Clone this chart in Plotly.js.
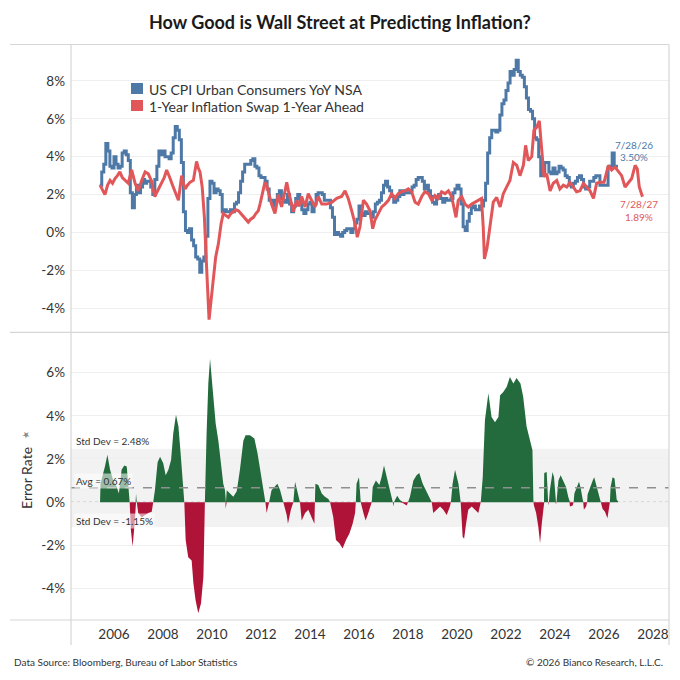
<!DOCTYPE html>
<html>
<head>
<meta charset="utf-8">
<script src="https://cdn.plot.ly/plotly-3.0.1.min.js"></script>
<style>
  html, body { margin: 0; padding: 0; background: #ffffff; }
  #chart { width: 680px; height: 680px; }
</style>
</head>
<body>
<div id="chart"></div>
<script>
// ---------- DATA ----------
// US CPI Urban Consumers YoY NSA, monthly, starting June 2005
const cpiStartYear = 2005;
const cpiStartMonth = 6;
const cpiValues = [
  2.5, 3.2, 3.6, 4.7, 4.3, 3.5, 3.4,
  4.0, 3.6, 3.4, 3.5, 4.2, 4.3, 4.1, 3.8, 2.1, 1.3, 2.0, 2.5,
  2.1, 2.4, 2.8, 2.6, 2.7, 2.7, 2.4, 2.0, 2.8, 3.5, 4.3, 4.1,
  4.3, 4.0, 4.0, 3.9, 4.2, 5.0, 5.6, 5.4, 4.9, 3.7, 1.1, 0.1,
  0.0, 0.2, -0.4, -0.7, -1.3, -1.4, -2.1, -1.5, -1.3, -0.2, 1.8, 2.7,
  2.6, 2.1, 2.3, 2.2, 2.0, 1.1, 1.2, 1.1, 1.1, 1.2, 1.1, 1.5,
  1.6, 2.1, 2.7, 3.2, 3.6, 3.6, 3.6, 3.8, 3.9, 3.5, 3.4, 3.0,
  2.9, 2.9, 2.7, 2.3, 1.7, 1.7, 1.4, 1.7, 2.0, 2.2, 1.8, 1.7,
  1.6, 2.0, 1.5, 1.1, 1.4, 1.8, 2.0, 1.5, 1.2, 1.0, 1.2, 1.5,
  1.6, 1.1, 1.5, 2.0, 2.1, 2.1, 2.0, 1.7, 1.7, 1.7, 1.3, 0.8,
  -0.1, 0.0, -0.1, -0.2, 0.0, 0.1, 0.2, 0.2, 0.0, 0.2, 0.5, 0.7,
  1.4, 1.0, 0.9, 1.1, 1.0, 1.0, 0.8, 1.1, 1.5, 1.6, 1.7, 2.1,
  2.5, 2.7, 2.4, 2.2, 1.9, 1.6, 1.7, 1.9, 2.2, 2.0, 2.2, 2.1,
  2.1, 2.2, 2.4, 2.5, 2.8, 2.9, 2.9, 2.7, 2.3, 2.5, 2.2, 1.9,
  1.6, 1.5, 1.9, 2.0, 1.8, 1.6, 1.8, 1.7, 1.7, 1.8, 2.1, 2.3,
  2.5, 2.3, 1.5, 0.3, 0.1, 0.6, 1.0, 1.3, 1.4, 1.2, 1.2, 1.4,
  1.4, 1.7, 2.6, 4.2, 5.0, 5.4, 5.4, 5.3, 5.4, 6.2, 6.8, 7.0,
  7.5, 7.9, 8.5, 8.3, 8.6, 9.1, 8.5, 8.3, 8.2, 7.7, 7.1, 6.5,
  6.4, 6.0, 5.0, 4.9, 4.0, 3.0, 3.2, 3.7, 3.7, 3.2, 3.1, 3.4,
  3.1, 3.2, 3.5, 3.4, 3.3, 3.0, 2.9, 2.5, 2.4, 2.6, 2.7, 2.9,
  3.0, 2.8, 2.4, 2.3, 2.4, 2.7, 2.7, 2.9, 3.0, 3.0, 2.5, 2.5,
  2.5, 2.5, 3.4, 3.5, 4.2, 3.5, 3.5
];
const cpiLastDate = 2026.57;   // 7/28/26

// 1-Year Inflation Swap, shifted 1 year ahead (decimal year, %)
const swapYear = [
  2005.43, 2005.52, 2005.63, 2005.74, 2005.84, 2005.94, 2006.04, 2006.14, 2006.24, 2006.34,
  2006.45, 2006.58, 2006.72, 2006.79, 2006.86, 2006.99, 2007.06, 2007.13, 2007.27, 2007.40,
  2007.47, 2007.54, 2007.61, 2007.67, 2007.74, 2007.81, 2007.95, 2008.05, 2008.15, 2008.22,
  2008.29, 2008.39, 2008.49, 2008.56, 2008.63, 2008.70, 2008.76, 2008.83, 2008.90, 2009.00,
  2009.10, 2009.24, 2009.31, 2009.37, 2009.44, 2009.51, 2009.60, 2009.65, 2009.69, 2009.75,
  2009.82, 2009.86, 2009.88, 2009.92, 2009.96, 2010.05, 2010.15, 2010.26, 2010.32, 2010.37,
  2010.46, 2010.56, 2010.67, 2010.77, 2010.87, 2010.97, 2011.08, 2011.18, 2011.28, 2011.38,
  2011.48, 2011.58, 2011.69, 2011.79, 2011.89, 2011.96, 2012.03, 2012.10, 2012.16, 2012.23,
  2012.30, 2012.37, 2012.43, 2012.50, 2012.57, 2012.64, 2012.71, 2012.78, 2012.84, 2012.95,
  2013.05, 2013.12, 2013.18, 2013.25, 2013.32, 2013.39, 2013.46, 2013.53, 2013.60, 2013.66,
  2013.73, 2013.80, 2013.93, 2014.06, 2014.20, 2014.34, 2014.48, 2014.68, 2014.90, 2015.09,
  2015.29, 2015.43, 2015.56, 2015.70, 2015.84, 2015.93, 2016.04, 2016.18, 2016.31, 2016.45,
  2016.56, 2016.65, 2016.79, 2016.93, 2017.06, 2017.20, 2017.33, 2017.47, 2017.60, 2017.74,
  2017.88, 2018.01, 2018.15, 2018.29, 2018.42, 2018.56, 2018.69, 2018.83, 2018.97, 2019.10,
  2019.23, 2019.37, 2019.51, 2019.65, 2019.78, 2019.88, 2019.96, 2020.05, 2020.19, 2020.33,
  2020.46, 2020.60, 2020.73, 2020.87, 2021.00, 2021.07, 2021.12, 2021.17, 2021.22, 2021.28,
  2021.35, 2021.48, 2021.62, 2021.76, 2021.89, 2022.03, 2022.16, 2022.30, 2022.44, 2022.57,
  2022.71, 2022.80, 2022.91, 2023.05, 2023.14, 2023.25, 2023.36, 2023.46, 2023.55, 2023.66,
  2023.80, 2023.93, 2024.07, 2024.20, 2024.34, 2024.48, 2024.61, 2024.75, 2024.88, 2025.02,
  2025.16, 2025.29, 2025.43, 2025.57, 2025.70, 2025.84, 2026.00, 2026.18, 2026.31, 2026.45,
  2026.59, 2026.72, 2026.86, 2027.00, 2027.13, 2027.27, 2027.36, 2027.44, 2027.57
];
const swapValue = [
  2.5, 2.3, 2.0, 2.5, 2.75, 2.6, 2.85, 3.0, 3.2, 2.9,
  2.75, 2.6, 3.3, 3.0, 2.6, 2.2, 2.5, 2.75, 3.2, 3.1,
  2.9, 2.7, 2.2, 1.9, 2.1, 2.3, 2.65, 2.9, 3.3, 3.1,
  2.85, 2.5, 2.2, 1.9, 1.7, 2.4, 3.0, 2.6, 2.3, 2.5,
  2.65, 2.75, 3.2, 3.75, 3.4, 3.2, 2.4, 1.6, 0.8, -1.0,
  -3.25, -4.3, -4.6, -4.1, -3.6, -2.2, -1.3, -0.6, 0.0, 0.45,
  1.0, 0.9, 0.8, 1.0, 1.1, 1.2, 1.15, 1.0, 0.9, 0.7,
  0.55, 0.7, 0.8, 1.0, 1.15, 1.5, 1.9, 2.4, 2.65, 2.5,
  2.2, 1.8, 1.5, 1.2, 1.0, 1.5, 2.0, 1.6, 1.35, 2.0,
  2.65, 2.2, 1.9, 1.4, 1.1, 1.4, 1.7, 1.4, 1.5, 1.9,
  1.6, 1.35, 2.05, 1.7, 1.35, 1.9, 1.5, 1.5, 1.6, 1.8,
  1.9, 2.2, 1.8, 1.15, 0.45, -0.25, 0.3, 1.7, 1.5, 1.15,
  0.2, 0.65, 1.0, 1.35, 1.5, 1.7, 2.05, 1.8, 2.05, 2.15,
  2.2, 2.3, 2.15, 1.6, 1.5, 1.9, 2.15, 2.05, 1.7, 1.95,
  1.8, 2.15, 2.05, 2.2, 1.9, 1.35, 0.8, 1.7, 1.9, 1.5,
  1.35, 1.5, 1.6, 1.7, 1.8, 0.3, -1.4, -1.1, -0.85, -0.3,
  0.45, 1.6, 1.85, 1.35, 2.05, 2.4, 2.75, 3.7, 3.55, 3.0,
  3.55, 4.6, 3.8, 4.0, 5.4, 5.55, 5.9, 4.35, 2.95, 3.1,
  2.2, 2.6, 2.75, 2.3, 2.5, 2.4, 2.65, 2.4, 2.15, 2.2,
  2.6, 2.4, 2.2, 1.8, 2.6, 2.65, 2.65, 3.55, 3.3, 3.45,
  3.2, 3.0, 2.4, 2.65, 2.85, 3.55, 3.35, 2.4, 1.89
];

// Error Rate (decimal year, %)
const errYear = [
  2005.43, 2005.45, 2005.63, 2005.73, 2005.84, 2005.97, 2006.11, 2006.20, 2006.31, 2006.42,
  2006.52, 2006.58, 2006.64, 2006.69, 2006.76, 2006.83, 2006.88, 2006.90, 2006.93, 2006.99,
  2007.13, 2007.27, 2007.40, 2007.54, 2007.60, 2007.67, 2007.78, 2007.88, 2008.01, 2008.11,
  2008.22, 2008.33, 2008.42, 2008.53, 2008.63, 2008.72, 2008.80, 2008.87, 2008.925, 2009.03,
  2009.17, 2009.24, 2009.33, 2009.44, 2009.55, 2009.65, 2009.71, 2009.78, 2009.85, 2009.92,
  2009.99, 2010.05, 2010.15, 2010.26, 2010.37, 2010.46, 2010.53, 2010.55, 2010.555, 2010.57,
  2010.60, 2010.74, 2010.87, 2011.01, 2011.14, 2011.28, 2011.37, 2011.55, 2011.73, 2011.86,
  2012.00, 2012.14, 2012.18, 2012.23, 2012.28, 2012.33, 2012.43, 2012.57, 2012.67, 2012.78,
  2012.91, 2013.05, 2013.10, 2013.22, 2013.32, 2013.39, 2013.50, 2013.59, 2013.66, 2013.80,
  2013.93, 2014.07, 2014.18, 2014.20, 2014.22, 2014.34, 2014.48, 2014.61, 2014.75, 2014.82,
  2014.95, 2015.06, 2015.20, 2015.33, 2015.47, 2015.61, 2015.74, 2015.84, 2015.87, 2015.90,
  2016.00, 2016.07, 2016.18, 2016.27, 2016.38, 2016.48, 2016.52, 2016.56, 2016.69, 2016.83,
  2016.92, 2017.02, 2017.13, 2017.24, 2017.33, 2017.38, 2017.40, 2017.43, 2017.47, 2017.56,
  2017.67, 2017.80, 2017.95, 2018.00, 2018.08, 2018.22, 2018.35, 2018.46, 2018.60, 2018.73,
  2018.87, 2018.97, 2019.03, 2019.17, 2019.31, 2019.44, 2019.58, 2019.71, 2019.75, 2019.82,
  2019.92, 2020.06, 2020.15, 2020.23, 2020.29, 2020.37, 2020.46, 2020.60, 2020.73, 2020.87,
  2020.97, 2021.05, 2021.14, 2021.28, 2021.41, 2021.55, 2021.69, 2021.76, 2021.89, 2022.03,
  2022.16, 2022.30, 2022.43, 2022.59, 2022.70, 2022.84, 2022.97, 2023.08, 2023.12, 2023.14,
  2023.23, 2023.32, 2023.39, 2023.46, 2023.52, 2023.55, 2023.56, 2023.66, 2023.72, 2023.73,
  2023.75, 2023.79, 2023.90, 2023.96, 2024.02, 2024.04, 2024.06, 2024.14, 2024.23, 2024.34,
  2024.45, 2024.54, 2024.59, 2024.61, 2024.72, 2024.76, 2024.79, 2024.88, 2024.98, 2025.05,
  2025.13, 2025.15, 2025.18, 2025.27, 2025.31, 2025.33, 2025.43, 2025.54, 2025.60, 2025.70,
  2025.81, 2025.87, 2025.94, 2026.04, 2026.14, 2026.20, 2026.24, 2026.27, 2026.35, 2026.43,
  2026.49, 2026.52, 2026.57
];
const errValue = [
  0.0, 0.85, 1.65, 2.2, 1.5, 1.0, 0.7, 0.4, 1.5, 1.7,
  1.65, 0.85, 0.0, -1.3, -2.05, -1.15, 0.0, 0.4, 0.0, -0.5,
  -0.7, -0.6, -0.5, -0.45, 0.0, 0.55, 1.85, 2.1, 1.8, 1.25,
  1.5, 1.95, 3.2, 4.05, 3.5, 2.25, 0.85, 0.0, -1.75, -2.55,
  -2.7, -3.75, -4.55, -5.15, -4.7, -3.45, 0.0, 3.2, 5.5, 6.65,
  5.65, 4.7, 3.65, 2.85, 1.8, 0.85, 0.55, 0.0, -0.3, 0.0,
  0.55, 0.4, 0.25, 0.5, 1.5, 2.85, 3.1, 3.1, 2.95, 2.25,
  1.2, 0.15, 0.0, -0.5, -0.2, 0.0, 0.55, 0.7, 0.85, 0.55,
  0.0, -0.6, -1.0, -0.35, 0.0, 0.95, 0.4, 0.0, -0.85, -0.5,
  -0.35, -0.7, -1.0, 0.0, 0.85, 0.8, 0.4, 0.25, 0.15, 0.0,
  -0.7, -1.75, -1.9, -2.15, -1.75, -1.45, -1.0, -0.5, 0.0, 0.85,
  1.15, 0.0, -0.5, -0.85, -0.5, -0.15, 0.0, 0.7, 1.0, 0.8,
  1.15, 1.7, 1.15, 0.7, 0.25, 0.0, -0.2, 0.0, 0.1, 0.3,
  0.1, -0.05, -0.15, 0.0, 0.25, 1.0, 1.25, 1.35, 0.85, 0.55,
  0.25, 0.0, -0.5, -0.35, -0.2, -0.35, -0.6, -0.2, 0.0, 0.85,
  1.5, 0.85, 0.0, -1.6, -1.7, -1.0, -0.35, -0.2, -0.35, -0.5,
  0.0, 1.15, 3.8, 5.05, 3.95, 3.7, 3.95, 4.95, 5.1, 5.35,
  5.8, 5.5, 5.75, 5.5, 4.9, 3.5, 2.9, 2.4, 0.0, -0.15,
  -0.5, -1.15, -1.9, -1.0, -0.3, 0.0, 1.35, 1.4, 0.0, -0.15,
  0.0, 0.55, 1.4, 1.15, 0.0, -0.1, 0.0, 1.0, 1.25, 1.0,
  0.7, 0.25, 0.0, -0.2, -0.15, 0.0, 0.4, 0.7, 0.95, 0.65,
  0.1, 0.0, -0.35, -0.2, 0.0, 0.35, 0.7, 1.0, 1.15, 0.7,
  0.25, 0.0, -0.3, -0.45, -0.75, -0.2, 0.0, 0.7, 1.15, 1.1,
  0.1, 0.1, 0.05
];

const errAvg = 0.67;
const errStdHigh = 2.48;
const errStdLow = -1.15;

const topTicks = [-4, -2, 0, 2, 4, 6, 8];
const bottomTicks = [-4, -2, 0, 2, 4, 6];
const yearTicks = [2006, 2008, 2010, 2012, 2014, 2016, 2018, 2020, 2022, 2024, 2026, 2028];

const seriesNames = ['US CPI Urban Consumers YoY NSA', '1-Year Inflation Swap 1-Year Ahead'];

// ---------- BUILD ----------
const cpiX = cpiValues.map((v, i) => cpiStartYear + (cpiStartMonth - 1 + i) / 12);
const cpiY = cpiValues.slice();
cpiX.push(cpiLastDate);
cpiY.push(cpiValues[cpiValues.length - 1]);

const errPos = errValue.map(v => (v > 0 ? v : 0));
const errNeg = errValue.map(v => (v < 0 ? v : 0));

const BLUE = '#4e79a7';
const RED = '#e15759';
const GREEN_BAR = '#236b3c';
const RED_BAR = '#b01338';
const FONT = 'Lato, "Open Sans", sans-serif';
const TXT = '#333333';
const LINEC = '#d6d6d6';

// pixel -> paper helpers (plot area: x 71..669, y 45..620)
const PX = px => (px - 71) / 598;
const PY = py => (620 - py) / 575;

const traces = [
  {
    x: cpiX, y: cpiY, type: 'scatter', mode: 'lines',
    line: { color: BLUE, width: 3, shape: 'hv' },
    xaxis: 'x', yaxis: 'y', name: seriesNames[0], hoverinfo: 'skip'
  },
  {
    x: swapYear, y: swapValue, type: 'scatter', mode: 'lines',
    line: { color: RED, width: 3 },
    xaxis: 'x', yaxis: 'y', name: seriesNames[1], hoverinfo: 'skip'
  },
  {
    x: errYear, y: errPos, type: 'scatter', mode: 'lines', fill: 'tozeroy',
    fillcolor: GREEN_BAR, line: { width: 0, color: GREEN_BAR },
    xaxis: 'x', yaxis: 'y2', hoverinfo: 'skip'
  },
  {
    x: errYear, y: errNeg, type: 'scatter', mode: 'lines', fill: 'tozeroy',
    fillcolor: RED_BAR, line: { width: 0, color: RED_BAR },
    xaxis: 'x', yaxis: 'y2', hoverinfo: 'skip'
  }
];

const shapes = [
  // std dev band
  { type: 'rect', xref: 'paper', yref: 'y2', x0: 0, x1: 1, y0: errStdLow, y1: errStdHigh,
    fillcolor: '#f2f2f2', line: { width: 0 }, layer: 'between' },
  // zero dotted lines
  { type: 'line', xref: 'paper', yref: 'y', x0: 0, x1: 1, y0: 0, y1: 0,
    line: { color: '#9a9a9a', width: 1, dash: 'dot' }, layer: 'between' },
  { type: 'line', xref: 'paper', yref: 'y2', x0: 0, x1: 1, y0: 0, y1: 0,
    line: { color: '#b0b0b0', width: 1, dash: 'dot' }, layer: 'between' },
  // avg dashed line
  { type: 'line', xref: 'paper', yref: 'y2', x0: 0, x1: 1, y0: errAvg, y1: errAvg,
    line: { color: '#8f8f8f', width: 1.6, dash: 'dash' }, layer: 'above' },
  // frame lines
  { type: 'line', xref: 'paper', yref: 'paper', x0: PX(10), x1: 1, y0: PY(44.5), y1: PY(44.5),
    line: { color: LINEC, width: 1.2 } },
  { type: 'line', xref: 'paper', yref: 'paper', x0: PX(10), x1: 1, y0: PY(332.3), y1: PY(332.3),
    line: { color: LINEC, width: 1.2 } },
  { type: 'line', xref: 'paper', yref: 'paper', x0: PX(10), x1: 1, y0: PY(620), y1: PY(620),
    line: { color: LINEC, width: 1.2 } },
  { type: 'line', xref: 'paper', yref: 'paper', x0: 0, x1: 0, y0: PY(44.5), y1: PY(645),
    line: { color: LINEC, width: 1.2 } },
  { type: 'line', xref: 'paper', yref: 'paper', x0: 1, x1: 1, y0: PY(44.5), y1: PY(645),
    line: { color: LINEC, width: 1.2 } },
  // legend swatches
  { type: 'rect', xref: 'paper', yref: 'paper', x0: PX(131), x1: PX(143), y0: PY(94), y1: PY(83),
    fillcolor: BLUE, line: { width: 0 } },
  { type: 'rect', xref: 'paper', yref: 'paper', x0: PX(131), x1: PX(143), y0: PY(111), y1: PY(100),
    fillcolor: RED, line: { width: 0 } }
];

const ann = (text, x, y, opts) => Object.assign({
  text: text, xref: 'paper', yref: 'paper', x: x, y: y, showarrow: false,
  xanchor: 'center', yanchor: 'middle', font: { family: FONT, size: 10, color: TXT }
}, opts || {});

const annotations = [
  ann('<b>How Good is Wall Street at Predicting Inflation?</b>', PX(340), PY(22),
      { font: { family: FONT, size: 18, color: '#1a1a1a' } }),
  ann(seriesNames[0], PX(147), PY(89), { xanchor: 'left', font: { family: FONT, size: 14, color: TXT } }),
  ann(seriesNames[1], PX(147), PY(106), { xanchor: 'left', font: { family: FONT, size: 14, color: TXT } }),
  ann('7/28/26', PX(634), PY(145), { font: { family: FONT, size: 10, color: BLUE } }),
  ann('3.50%', PX(634), PY(157), { font: { family: FONT, size: 10, color: BLUE } }),
  ann('7/28/27', PX(639), PY(204), { font: { family: FONT, size: 10, color: RED } }),
  ann('1.89%', PX(639), PY(217), { font: { family: FONT, size: 10, color: RED } }),
  ann('Std Dev = ' + errStdHigh.toFixed(2) + '%', PX(74), PY(441), { xanchor: 'left' }),
  ann('Avg = ' + errAvg.toFixed(2) + '%', PX(74), PY(481),
      { xanchor: 'left', bgcolor: 'rgba(255,255,255,0.55)', borderpad: 1 }),
  ann('Std Dev = ' + errStdLow.toFixed(2) + '%', PX(74), PY(520.5),
      { xanchor: 'left', bgcolor: 'rgba(255,255,255,0.55)', borderpad: 1 }),
  ann('Error Rate', PX(26), PY(478), { textangle: -90, font: { family: FONT, size: 14, color: TXT } }),
  ann('\u2605', PX(26), PY(435), { textangle: -30, font: { family: 'DejaVu Sans', size: 9, color: '#8a8a8a' } }),
  ann('Data Source: Bloomberg, Bureau of Labor Statistics', PX(12), PY(662),
      { xanchor: 'left', font: { family: FONT, size: 10, color: TXT } }),
  ann('\u00A9 2026 Bianco Research, L.L.C.', PX(665), PY(662),
      { xanchor: 'right', font: { family: FONT, size: 10, color: TXT } })
];

const pct = v => v + '%';

const layout = {
  width: 680, height: 680,
  margin: { l: 71, r: 11, t: 45, b: 60, pad: 0 },
  paper_bgcolor: '#ffffff', plot_bgcolor: '#ffffff',
  showlegend: false,
  font: { family: FONT, color: TXT },
  xaxis: {
    type: 'linear', range: [2004.245, 2028.653], anchor: 'y2',
    tickmode: 'array', tickvals: yearTicks, ticktext: yearTicks.map(String),
    showgrid: false, zeroline: false, showline: false, ticks: '',
    ticklabelstandoff: 4,
    tickfont: { family: FONT, size: 13.5, color: TXT }
  },
  yaxis: {
    domain: [PY(332.3), 1], range: [-5.27, 9.90], anchor: 'x',
    tickmode: 'array', tickvals: topTicks, ticktext: topTicks.map(pct),
    showgrid: true, gridcolor: '#efefef', gridwidth: 1, zeroline: false, showline: false,
    ticks: '', ticklabelstandoff: 5,
    tickfont: { family: FONT, size: 13.5, color: TXT }
  },
  yaxis2: {
    domain: [0, PY(332.3)], range: [-5.46, 7.87], anchor: 'x',
    tickmode: 'array', tickvals: bottomTicks, ticktext: bottomTicks.map(pct),
    showgrid: true, gridcolor: '#efefef', gridwidth: 1, zeroline: false, showline: false,
    ticks: '', ticklabelstandoff: 5,
    tickfont: { family: FONT, size: 13.5, color: TXT }
  },
  shapes: shapes,
  annotations: annotations
};

Plotly.newPlot('chart', traces, layout, { staticPlot: true, displayModeBar: false });
</script>
</body>
</html>
